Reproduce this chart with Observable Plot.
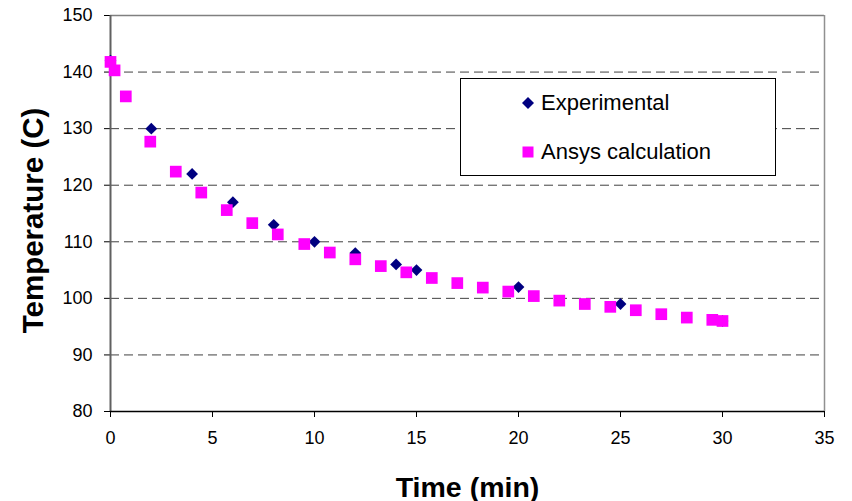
<!DOCTYPE html>
<html>
<head>
<meta charset="utf-8">
<script src="https://cdn.jsdelivr.net/npm/d3@7"></script>
<script src="https://cdn.jsdelivr.net/npm/@observablehq/plot@0.6"></script>
<style>
  html, body { margin: 0; padding: 0; background: #fff; }
  #wrap { position: relative; width: 852px; height: 501px; font-family: "Liberation Sans", Arial, sans-serif; }
  #legend { position: absolute; left: 460px; top: 78px; width: 316px; height: 98px; border: 1px solid #000; background: #fff; box-sizing: border-box; }
  .item { position: absolute; left: 60px; display: flex; align-items: center; font-size: 22px; color: #000; }
  .item svg { margin-right: 6px; }
</style>
</head>
<body>
<div id="wrap"></div>
<script>
// Experimental measurements
const expTime = [0, 2, 4, 6, 8, 10, 12, 14, 15, 20, 25, 30];
const expTemp = [142, 130, 122, 117, 113, 110, 108, 106, 105, 102, 99, 96];
// Ansys calculation
const ansTime = [0, 0.2, 0.75, 1.95, 3.2, 4.45, 5.7, 6.95, 8.2, 9.5, 10.75, 12, 13.25, 14.5, 15.75, 17, 18.25, 19.5, 20.75, 22, 23.25, 24.5, 25.75, 27, 28.25, 29.5, 30];
const ansTemp = [141.8, 140.3, 135.7, 127.7, 122.4, 118.7, 115.6, 113.3, 111.3, 109.6, 108.1, 106.9, 105.7, 104.6, 103.6, 102.7, 101.9, 101.2, 100.4, 99.6, 99.0, 98.5, 97.9, 97.2, 96.6, 96.2, 96.0];
// Axis ticks
const xTicks = [0, 5, 10, 15, 20, 25, 30, 35];
const yTicks = [80, 90, 100, 110, 120, 130, 140, 150];
const gridTicks = [90, 100, 110, 120, 130, 140];
const seriesNames = ["Experimental", "Ansys calculation"];
const seriesColors = ["#000080", "#FF00FF"];

const expData = expTime.map((t, i) => ({time: t, temp: expTemp[i]}));
const ansData = ansTime.map((t, i) => ({time: t, temp: ansTemp[i]}));

const diamond = {
  draw(context, size) {
    const h = Math.sqrt(size / 2);
    context.moveTo(0, -h);
    context.lineTo(h, 0);
    context.lineTo(0, h);
    context.lineTo(-h, 0);
    context.closePath();
  }
};

const chart = Plot.plot({
  width: 852,
  height: 501,
  marginLeft: 110,
  marginRight: 28,
  marginTop: 15,
  marginBottom: 90,
  style: {fontFamily: "Liberation Sans, Arial, sans-serif", background: "#fff", overflow: "visible"},
  x: {domain: [0, 35], ticks: xTicks},
  y: {domain: [80, 150], ticks: yTicks},
  marks: [
    Plot.ruleY(gridTicks, {stroke: "#404040", strokeWidth: 1, strokeDasharray: "9,5"}),
    Plot.ruleY([150], {stroke: "#808080", strokeWidth: 1.3}),
    Plot.ruleX([35], {stroke: "#909090", strokeWidth: 1.5}),
    Plot.axisY({ticks: yTicks, tickSize: 6, tickPadding: 12, fontSize: 18, label: null, stroke: "#000", color: "#000"}),
    Plot.axisX({ticks: xTicks, tickSize: 6, tickPadding: 14, fontSize: 18, label: null, stroke: "#000", color: "#000"}),
    Plot.ruleX([0], {stroke: "#606060", strokeWidth: 2}),
    Plot.ruleY([80], {stroke: "#000", strokeWidth: 1.3}),
    Plot.dot(expData, {x: "time", y: "temp", symbol: diamond, r: 4.7, fill: seriesColors[0], stroke: "none"}),
    Plot.dot(ansData, {x: "time", y: "temp", symbol: "square", r: 6.6, fill: seriesColors[1], stroke: "none"}),
    Plot.text(["Temperature (C)"], {frameAnchor: "left", textAnchor: "middle", rotate: -90, dx: -77, dy: 7, fontSize: 29.5, fontWeight: "bold", fill: "#000"}),
    Plot.text(["Time (min)"], {frameAnchor: "bottom", dy: 85, fontSize: 28.5, fontWeight: "bold", fill: "#000"})
  ]
});

const wrap = document.getElementById("wrap");
wrap.appendChild(chart);

// Legend
const legend = document.createElement("div");
legend.id = "legend";
const markerSvgs = [
  '<svg width="14" height="14" viewBox="-7 -7 14 14"><path d="M0,-6L6,0L0,6L-6,0Z" fill="' + seriesColors[0] + '"/></svg>',
  '<svg width="14" height="14" viewBox="-7 -7 14 14"><rect x="-5.5" y="-5.5" width="11" height="11" fill="' + seriesColors[1] + '"/></svg>'
];
const tops = [11, 60];
seriesNames.forEach((name, i) => {
  const it = document.createElement("div");
  it.className = "item";
  it.style.top = tops[i] + "px";
  it.innerHTML = markerSvgs[i] + "<span>" + name + "</span>";
  legend.appendChild(it);
});
wrap.appendChild(legend);
</script>
</body>
</html>
